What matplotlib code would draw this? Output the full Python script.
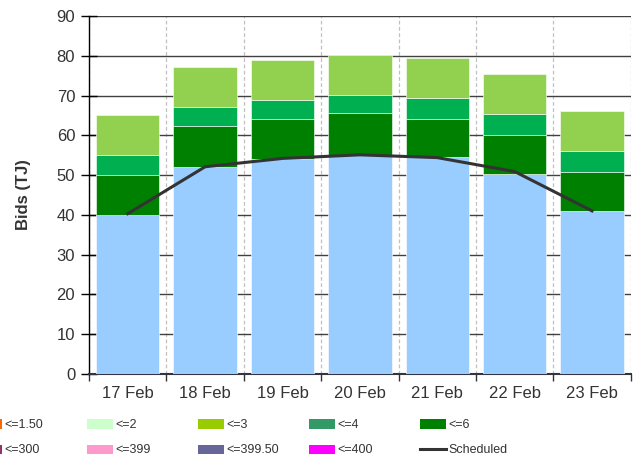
import matplotlib
matplotlib.use("Agg")
import matplotlib.pyplot as plt
import numpy as np
from matplotlib.patches import Patch
from matplotlib.lines import Line2D

plt.rcParams["font.family"] = ["Liberation Sans", "DejaVu Sans"]

days = ["17 Feb", "18 Feb", "19 Feb", "20 Feb", "21 Feb", "22 Feb", "23 Feb"]
base = [40.0, 52.0, 54.0, 55.0, 54.5, 50.3, 41.0]
band_a = [10.0, 10.4, 10.2, 10.5, 9.7, 9.9, 9.9]
band_b = [5.0, 4.8, 4.7, 4.6, 5.1, 5.2, 5.2]
band_c = [10.1, 10.0, 10.0, 10.1, 10.1, 10.0, 10.0]
scheduled = [40.3, 52.1, 54.2, 55.1, 54.4, 50.9, 41.0]

legend_labels = ["<=1.50", "<=300", "<=2", "<=399", "<=3", "<=399.50",
                 "<=4", "<=400", "<=6", "Scheduled"]
legend_colors = ["#ff6600", "#993366", "#ccffcc", "#ff99cc", "#99cc00", "#666699",
                 "#339966", "#ff00ff", "#008000", "#333333"]

seg_colors = ["#99ccff", "#008000", "#00b050", "#92d050"]

fig = plt.figure(figsize=(6.36, 4.59), dpi=100)
ax = fig.add_axes([0.140, 0.1852, 0.8517, 0.7799])

x = np.arange(len(days))
bottom = np.zeros(len(days))
for vals, col in zip([base, band_a, band_b, band_c], seg_colors):
    ax.bar(x, vals, 0.82, bottom=bottom, color=col, edgecolor="white",
           linewidth=0.4, zorder=3)
    bottom += np.array(vals)

ax.plot(x, scheduled, color="#333333", lw=2.2, zorder=4)

ax.set_xlim(-0.5, len(days) - 0.5)
ax.set_ylim(0, 90)
ax.set_yticks(np.arange(0, 91, 10))
ax.set_xticks(x)
ax.set_xticklabels(days)
ax.set_xticks(np.arange(-0.5, len(days)), minor=True)
ax.tick_params(axis="x", which="major", length=0, pad=9, labelsize=12, labelcolor="#333333")
ax.tick_params(axis="x", which="minor", length=5, width=1, color="#333333")
ax.tick_params(axis="y", length=12, direction="inout", width=1, labelsize=12,
               labelcolor="#333333", pad=4)
ax.grid(True, axis="y", color="#404040", lw=1.0, zorder=1)
ax.grid(True, axis="x", which="minor", color="#c0c0c0", lw=0.9, ls=(0, (3, 2)), zorder=1)
for s in ["top", "right"]:
    ax.spines[s].set_visible(False)
ax.spines["bottom"].set_color("#333344")
ax.spines["bottom"].set_linewidth(1.5)
ax.spines["left"].set_linewidth(1.0)
ax.set_ylabel("Bids (TJ)", fontsize=12, fontweight="bold", color="#333333")
ax.yaxis.set_label_coords(-0.108, 0.5)

# legend: five columns of two entries each, first column runs off the left edge
col_x = [-24, 87, 198, 309, 420]
for k, cx in enumerate(col_x):
    handles = []
    for j in range(2):
        i = 2 * k + j
        if legend_labels[i] == "Scheduled":
            handles.append(Line2D([], [], color=legend_colors[i], lw=2.2))
        else:
            handles.append(Patch(facecolor=legend_colors[i], edgecolor="none"))
    fig.legend(handles, legend_labels[2 * k:2 * k + 2], loc="center left",
               bbox_to_anchor=(cx / 636, 0.046), frameon=False, fontsize=9,
               handlelength=2.1, handleheight=0.75, handletextpad=0.2,
               labelspacing=1.05, borderpad=0, borderaxespad=0,
               labelcolor="#333333")

fig.savefig("out.png", dpi=100)
